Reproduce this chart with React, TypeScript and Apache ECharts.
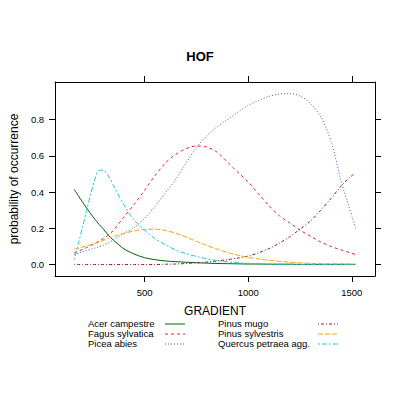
import React, { useEffect, useRef } from 'react';
import * as echarts from 'echarts';

const gradient = [160, 180, 200, 220, 240, 260, 280, 300, 325, 350, 400, 450, 500, 550, 600, 650, 700, 750, 800, 850, 900, 950, 1000, 1050, 1100, 1150, 1200, 1250, 1300, 1350, 1400, 1450, 1500, 1518];

const acerCampestre = [0.415, 0.38, 0.345, 0.312, 0.28, 0.25, 0.222, 0.197, 0.162, 0.134, 0.087, 0.058, 0.038, 0.027, 0.02, 0.016, 0.013, 0.01, 0.008, 0.006, 0.005, 0.004, 0.003, 0.003, 0.002, 0.002, 0.002, 0.001, 0.001, 0.001, 0.001, 0.001, 0.001, 0.001];
const fagusSylvatica = [0.065, 0.074, 0.083, 0.094, 0.105, 0.117, 0.13, 0.143, 0.163, 0.19, 0.262, 0.333, 0.41, 0.49, 0.56, 0.607, 0.64, 0.654, 0.648, 0.62, 0.565, 0.51, 0.455, 0.39, 0.325, 0.27, 0.23, 0.19, 0.157, 0.125, 0.1, 0.08, 0.062, 0.056];
const piceaAbies = [0.057, 0.063, 0.07, 0.077, 0.084, 0.091, 0.098, 0.106, 0.12, 0.136, 0.172, 0.205, 0.255, 0.32, 0.395, 0.47, 0.56, 0.645, 0.71, 0.76, 0.8, 0.84, 0.878, 0.905, 0.928, 0.94, 0.943, 0.93, 0.89, 0.815, 0.68, 0.455, 0.27, 0.2];
const pinusMugo = [0, 0, 0, 0, 0, 0, 0, 0, 0, 0, 0, 0, 0, 0, 0.002, 0.003, 0.006, 0.01, 0.014, 0.02, 0.027, 0.036, 0.047, 0.065, 0.088, 0.118, 0.153, 0.195, 0.24, 0.3, 0.365, 0.435, 0.49, 0.502];
const pinusSylvestris = [0.084, 0.09, 0.097, 0.103, 0.11, 0.117, 0.125, 0.133, 0.145, 0.155, 0.172, 0.186, 0.194, 0.195, 0.188, 0.173, 0.152, 0.128, 0.106, 0.085, 0.067, 0.052, 0.04, 0.031, 0.024, 0.018, 0.013, 0.01, 0.007, 0.005, 0.004, 0.004, 0.003, 0.003];
const quercusPetraea = [0.027, 0.115, 0.205, 0.298, 0.39, 0.47, 0.52, 0.52, 0.49, 0.435, 0.33, 0.245, 0.19, 0.143, 0.11, 0.08, 0.06, 0.045, 0.032, 0.022, 0.015, 0.01, 0.007, 0.005, 0.003, 0.002, 0.002, 0.001, 0.001, 0.001, 0.001, 0.001, 0.001, 0.001];

const speciesNames = ['Acer campestre', 'Fagus sylvatica', 'Picea abies', 'Pinus mugo', 'Pinus sylvestris', 'Quercus petraea agg.'];
const speciesValues = [acerCampestre, fagusSylvatica, piceaAbies, pinusMugo, pinusSylvestris, quercusPetraea];
const speciesColors = ['#006400', '#E0202F', '#3A5CB8', '#8B1A3A', '#FFA000', '#20C8D2'];
const speciesDashes: (number[] | null)[] = [null, [3, 3], [1, 2], [1, 2, 3, 2], [5, 2], [2, 2, 5, 2]];

const xTicks = [500, 1000, 1500];
const yTicks = [0, 0.2, 0.4, 0.6, 0.8];

const FONT = '"Liberation Sans", Arial, sans-serif';

export default function App() {
  const ref = useRef<HTMLDivElement>(null);
  useEffect(() => {
    if (!ref.current) return;
    const chart = echarts.init(ref.current, null, { renderer: 'svg' });

    const xMin = 68, xMax = 1612, yMin = -0.063, yMax = 1.007;

    const series = speciesNames.map((name, i) => ({
      name,
      type: 'line',
      xAxisIndex: 0,
      yAxisIndex: 0,
      data: gradient.map((g, j) => [g, speciesValues[i][j]]),
      showSymbol: false,
      smooth: 0.3,
      lineStyle: { color: speciesColors[i], width: 1, type: speciesDashes[i] ?? 'solid' },
      itemStyle: { color: speciesColors[i] },
      z: 2 + i,
    }));

    const legendGraphics: any[] = [];
    speciesNames.forEach((name, i) => {
      const col = Math.floor(i / 3);
      const row = i % 3;
      const ty = 324 + row * 10;
      const tx = col === 0 ? 88 : 218;
      const lx = col === 0 ? 165 : 318;
      legendGraphics.push({
        type: 'text',
        left: tx,
        top: ty - 6,
        style: { text: name, fontSize: 9.5, fontFamily: FONT, fill: '#000' },
      });
      legendGraphics.push({
        type: 'line',
        shape: { x1: lx, y1: ty, x2: lx + 20, y2: ty },
        style: { stroke: speciesColors[i], lineWidth: 1, lineDash: speciesDashes[i] ?? null },
      });
    });

    const axisLine = { show: true, onZero: false, lineStyle: { color: '#000', width: 1 } };
    const tick = (vals: number[]) => ({ show: true, inside: false, length: 6, customValues: vals, lineStyle: { color: '#000', width: 1 } });

    chart.setOption({
      animation: false,
      textStyle: { fontFamily: FONT },
      title: {
        text: 'HOF',
        left: 'center',
        top: 45,
        textStyle: { fontSize: 13, fontWeight: 'bold', color: '#000', fontFamily: FONT },
      },
      grid: { left: 51, top: 82, right: 25, bottom: 123, show: false },
      xAxis: [
        {
          type: 'value', min: xMin, max: xMax, position: 'bottom', axisLine, splitLine: { show: false },
          axisTick: tick(xTicks),
          axisLabel: { customValues: xTicks, fontSize: 9.5, color: '#000', margin: 11, fontFamily: FONT, formatter: (v: number) => String(v) },
          name: 'GRADIENT', nameLocation: 'middle', nameGap: 29,
          nameTextStyle: { fontSize: 12, color: '#000', fontFamily: FONT },
        },
        {
          type: 'value', min: xMin, max: xMax, position: 'top', axisLine, splitLine: { show: false },
          axisTick: tick(xTicks),
          axisLabel: { show: false },
        },
      ],
      yAxis: [
        {
          type: 'value', min: yMin, max: yMax, position: 'left', axisLine, splitLine: { show: false },
          axisTick: tick(yTicks),
          axisLabel: {
            customValues: yTicks, fontSize: 9.5, color: '#000', margin: 11, fontFamily: FONT,
            formatter: (v: number) => v.toFixed(1),
          },
          name: 'probability of occurrence', nameLocation: 'middle', nameGap: 30,
          nameTextStyle: { fontSize: 12, color: '#000', fontFamily: FONT },
        },
        {
          type: 'value', min: yMin, max: yMax, position: 'right', axisLine, splitLine: { show: false },
          axisTick: tick(yTicks),
          axisLabel: { show: false },
        },
      ],
      series,
      graphic: legendGraphics,
    });

    return () => chart.dispose();
  }, []);

  return <div ref={ref} style={{ position: 'fixed', left: 0, top: 0, width: 400, height: 399, background: '#fff' }} />;
}
